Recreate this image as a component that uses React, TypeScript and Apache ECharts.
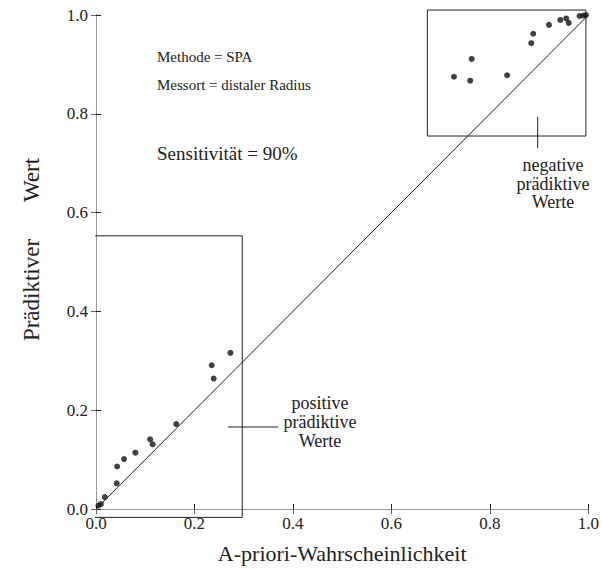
import React, { useEffect, useRef } from "react";
import * as echarts from "echarts";

// Tick values of both axes
const tickValues = [0.0, 0.2, 0.4, 0.6, 0.8, 1.0];

// Positive predictive values (low a-priori probabilities)
const posPriori = [0.005, 0.010, 0.018, 0.042, 0.043, 0.057, 0.080, 0.110, 0.115, 0.163, 0.235, 0.239, 0.273];
const posValue = [0.007, 0.010, 0.024, 0.052, 0.086, 0.101, 0.114, 0.141, 0.131, 0.172, 0.291, 0.264, 0.316];

// Negative predictive values (high a-priori probabilities)
const negPriori = [0.727, 0.760, 0.763, 0.835, 0.884, 0.888, 0.920, 0.943, 0.955, 0.960, 0.982, 0.990, 0.995];
const negValue = [0.875, 0.867, 0.911, 0.878, 0.943, 0.962, 0.980, 0.990, 0.993, 0.984, 0.998, 0.999, 1.0];

// Annotation boxes (data coordinates): [xMin, xMax, yMin, yMax]
const posBox = [-0.015, 0.297, -0.017, 0.553];
const negBox = [0.673, 0.995, 0.755, 1.01];
// Connector lines (data coordinates)
const posConnector = [[0.268, 0.166], [0.37, 0.166]];
const negConnector = [[0.897, 0.794], [0.897, 0.731]];

// Annotation label lines
const negLabel = ["negative", "prädiktive", "Werte"];
const posLabel = ["positive", "prädiktive", "Werte"];
// Y-axis title words (printed with a wide gap)
const yTitleWords = ["Prädiktiver", "Wert"];

const FONT = "'Liberation Serif', 'Times New Roman', serif";
const INK = "#222";

function boxPath(b: number[]) {
  return [
    [b[0], b[2]],
    [b[1], b[2]],
    [b[1], b[3]],
    [b[0], b[3]],
    [b[0], b[2]],
  ];
}

function stackedText(lines: string[], cx: number, top: number, step: number) {
  return lines.map((t, i) => ({
    type: "text",
    x: cx,
    y: top + i * step,
    style: {
      text: t,
      font: `18px ${FONT}`,
      fill: INK,
      align: "center",
      verticalAlign: "top",
    },
  }));
}

export default function App() {
  const ref = useRef<HTMLDivElement>(null);
  useEffect(() => {
    if (!ref.current) return;
    const chart = echarts.init(ref.current, undefined, { renderer: "svg" });
    const axisCommon = {
      type: "value",
      min: 0,
      max: 1,
      interval: 0.2,
      splitLine: { show: false },
      axisLine: { show: true, lineStyle: { color: INK, width: 1 } },
      axisTick: { show: true, inside: true, length: 5, lineStyle: { color: INK } },
    };
    const labelStyle = {
      fontFamily: FONT,
      fontSize: 17,
      color: INK,
      formatter: (v: number) => (tickValues.includes(+v.toFixed(1)) ? v.toFixed(1) : ""),
    };
    const frameCommon = {
      ...axisCommon,
      axisLabel: { show: false },
      axisLine: { show: true, lineStyle: { color: "#999", width: 1 } },
      axisTick: { show: true, inside: true, length: 5, lineStyle: { color: "#666" } },
    };
    const lineStyle = { color: INK, width: 1 };
    const yTitleCenters = [290, 180];
    chart.setOption({
      animation: false,
      backgroundColor: "#fff",
      grid: { left: 96, top: 15, right: 12, bottom: 59 },
      xAxis: [
        {
          ...axisCommon,
          position: "bottom",
          axisLabel: { ...labelStyle, margin: 6 },
          name: "A-priori-Wahrscheinlichkeit",
          nameLocation: "middle",
          nameGap: 33,
          nameTextStyle: { fontFamily: FONT, fontSize: 22, color: INK },
        },
        { ...frameCommon, position: "top" },
      ],
      yAxis: [
        {
          ...axisCommon,
          position: "left",
          axisLabel: { ...labelStyle, margin: 8 },
        },
        { ...frameCommon, position: "right" },
      ],
      series: [
        {
          type: "line",
          data: [[0, 0], [1, 1]],
          showSymbol: false,
          symbol: "none",
          lineStyle,
          silent: true,
        },
        {
          type: "line",
          data: boxPath(posBox),
          symbol: "none",
          clip: false,
          lineStyle,
          silent: true,
        },
        {
          type: "line",
          data: boxPath(negBox),
          symbol: "none",
          clip: false,
          lineStyle,
          silent: true,
        },
        {
          type: "line",
          data: posConnector,
          symbol: "none",
          clip: false,
          lineStyle,
          silent: true,
        },
        {
          type: "line",
          data: negConnector,
          symbol: "none",
          clip: false,
          lineStyle,
          silent: true,
        },
        {
          type: "scatter",
          name: "positive prädiktive Werte",
          data: posPriori.map((x, i) => [x, posValue[i]]),
          symbolSize: 6,
          itemStyle: { color: "#111" },
          clip: false,
        },
        {
          type: "scatter",
          name: "negative prädiktive Werte",
          data: negPriori.map((x, i) => [x, negValue[i]]),
          symbolSize: 6,
          itemStyle: { color: "#111" },
          clip: false,
        },
      ],
      graphic: [
        ...yTitleWords.map((w, i) => ({
          type: "text",
          x: 31,
          y: yTitleCenters[i],
          rotation: Math.PI / 2,
          style: {
            text: w,
            font: `23px ${FONT}`,
            fill: INK,
            align: "center",
            verticalAlign: "middle",
          },
        })),
        {
          type: "text",
          left: 157,
          top: 49,
          style: { text: "Methode = SPA", font: `15px ${FONT}`, fill: INK },
        },
        {
          type: "text",
          left: 157,
          top: 77,
          style: { text: "Messort = distaler Radius", font: `15px ${FONT}`, fill: INK },
        },
        {
          type: "text",
          left: 157,
          top: 144,
          style: { text: "Sensitivität = 90%", font: `19px ${FONT}`, fill: INK },
        },
        ...stackedText(negLabel, 553, 156, 18.5),
        ...stackedText(posLabel, 320, 394, 19),
      ],
    });
    return () => chart.dispose();
  }, []);
  return (
    <div
      ref={ref}
      style={{ position: "fixed", left: 0, top: 0, width: 602, height: 569, background: "#fff" }}
    />
  );
}
